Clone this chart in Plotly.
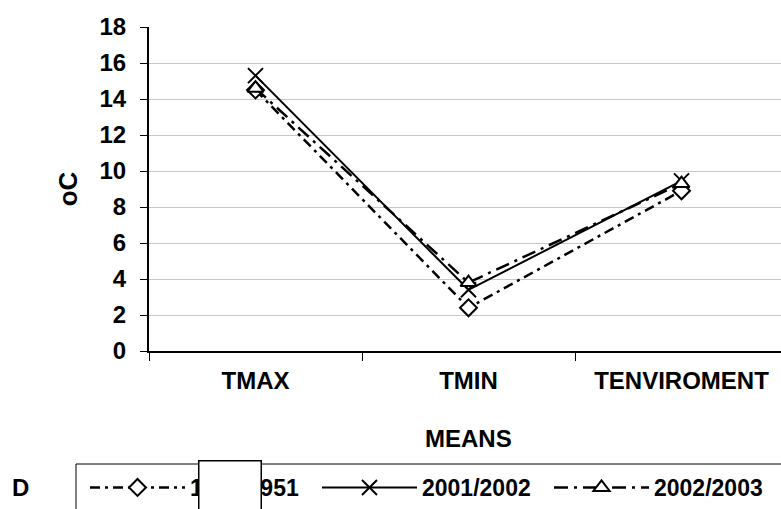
import plotly.graph_objects as go

categories = ["TMAX", "TMIN", "TENVIROMENT"]
s1950 = [14.5, 2.4, 8.9]
s2001 = [15.3, 3.4, 9.45]
s2002 = [14.6, 3.8, 9.3]
names = ["1950/1951", "2001/2002", "2002/2003"]
yticks = list(range(0, 19, 2))

FONT = "Liberation Sans, Arial, sans-serif"
W, H = 781, 509
L, R, T, B = 149, 0, 27, 158
pw, ph = W - L - R, H - T - B

def px2x(px):
    return (px - L) / pw

def py2y(py):
    return (H - B - py) / ph

fig = go.Figure()
fig.add_trace(go.Scatter(
    x=categories, y=s1950, name=names[0], mode="lines+markers",
    line=dict(color="black", width=2.5, dash="10px,5px,3px,5px"),
    marker=dict(symbol="diamond", size=13, color="white", line=dict(width=2, color="black"))))
fig.add_trace(go.Scatter(
    x=categories, y=s2001, name=names[1], mode="lines+markers",
    line=dict(color="black", width=2),
    marker=dict(symbol="x-thin-open", size=15, color="black", line=dict(width=2, color="black"))))
fig.add_trace(go.Scatter(
    x=categories, y=s2002, name=names[2], mode="lines+markers",
    line=dict(color="black", width=2.5, dash="14px,6px,3px,6px"),
    marker=dict(symbol="triangle-up", size=14, color="white", line=dict(width=2, color="black"))))

fig.update_layout(
    width=W, height=H,
    margin=dict(l=L, r=R, t=T, b=B),
    paper_bgcolor="white", plot_bgcolor="white",
    font=dict(family=FONT, color="black"),
    showlegend=True,
    legend=dict(
        orientation="h", x=px2x(90), y=py2y(466), xanchor="left", yanchor="top",
        borderwidth=0, bgcolor="rgba(0,0,0,0)",
        font=dict(family=FONT, size=23, weight="bold", color="black"),
        itemwidth=95, tracegroupgap=0,
        entrywidth=122, entrywidthmode="pixels",
    ),
    xaxis=dict(
        type="category", range=[-0.5, -0.5 + pw / 213.0],
        showline=True, linecolor="black", linewidth=2,
        ticks="outside", tickson="boundaries", ticklen=8, tickcolor="black", tickwidth=1,
        showgrid=False, zeroline=False,
        tickfont=dict(family=FONT, size=24, weight="bold", color="black"),
        ticklabelstandoff=7,
    ),
    yaxis=dict(
        range=[0, 18], tickvals=yticks,
        showline=True, linecolor="black", linewidth=2,
        ticks="outside", ticklen=7, tickcolor="black", tickwidth=1,
        showgrid=True, gridcolor="#c8c8c8", gridwidth=1, zeroline=False,
        tickfont=dict(family=FONT, size=24, weight="bold", color="black"),
        ticklabelstandoff=9,
        title=dict(text="oC", font=dict(family=FONT, size=26, weight="bold", color="black"), standoff=14),
    ),
    shapes=[
        dict(type="rect", xref="paper", yref="paper",
             x0=px2x(76), x1=px2x(800), y0=py2y(464), y1=py2y(540),
             line=dict(color="black", width=1), fillcolor="rgba(0,0,0,0)", layer="below"),
    ],
    annotations=[
        dict(text="MEANS", x=px2x(468), y=py2y(438), xref="paper", yref="paper",
             showarrow=False, font=dict(family=FONT, size=24, weight="bold", color="black"),
             xanchor="center", yanchor="middle"),
        dict(text="D", x=px2x(20), y=py2y(487), xref="paper", yref="paper",
             showarrow=False, font=dict(family=FONT, size=24, weight="bold", color="black"),
             xanchor="center", yanchor="middle"),
        dict(text=" ", x=px2x(229.5), y=py2y(460), xref="paper", yref="paper",
             showarrow=False, width=61, height=70, bgcolor="white",
             bordercolor="black", borderwidth=1.5, borderpad=0,
             xanchor="center", yanchor="top"),
    ],
)

fig.write_html("out.html")
